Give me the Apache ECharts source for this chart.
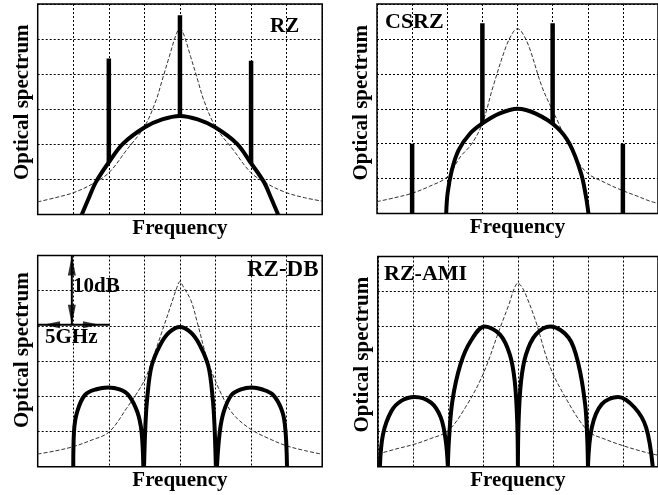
<!DOCTYPE html>
<html><head><meta charset="utf-8">
<script src="https://cdn.jsdelivr.net/npm/echarts@6/dist/echarts.min.js"></script>
<style>html,body{margin:0;padding:0;background:#fff}#c{width:658px;height:495px}</style>
</head><body><div id="c"></div><script>
// ---------- Panel 1: RZ ----------
const rzEnvX = [1.24,1.45,1.64,2,2.4,3,3.5,4,4.5,5,5.6,6,6.36,6.55,6.76];
const rzEnvY = [0,0.5,0.93,1.49,2.02,2.48,2.71,2.81,2.71,2.48,2.02,1.46,0.93,0.5,0];
const rzRefX = [0,0.5,1,1.5,2,2.5,3,3.33,3.5,3.7,3.9,4,4.1,4.3,4.5,4.67,5,5.5,6,6.5,7,7.5,8];
const rzRefY = [0.36,0.48,0.62,0.85,1.19,1.84,2.5,3.26,3.83,4.5,5.15,5.3,5.15,4.5,3.83,3.26,2.5,1.84,1.19,0.85,0.62,0.48,0.38];
const rzToneX = [2,4,6];
const rzToneLow = [1.49,2.81,1.46];
const rzToneHigh = [4.45,5.68,4.38];

// ---------- Panel 2: CSRZ ----------
const csEnvX = [1.97,2.01,2.13,2.32,2.65,3,3.48,4,4.52,5.11,5.48,5.81,5.95,6.02];
const csEnvY = [0,0.58,1.24,1.81,2.29,2.58,2.86,3.0,2.86,2.48,2.0,1.15,0.48,0];
const csRefX = [0,0.5,1,1.5,2,2.37,2.7,3,3.3,3.67,3.88,4,4.12,4.33,4.7,5,5.11,5.48,5.95,6.5,6.96,7.4,7.81,8];
const csRefY = [0.34,0.45,0.58,0.78,1.05,1.62,2.0,2.58,3.62,4.77,5.2,5.29,5.2,4.77,3.62,2.95,2.72,1.91,1.19,0.88,0.67,0.5,0.34,0.3];
const csToneX = [1,3,5,7];
const csToneLow = [0,2.58,2.58,0];
const csToneHigh = [2.0,5.45,5.45,2.0];

// ---------- Panel 3: RZ-DB ----------
const dbLobe1X = [1.0,1.02,1.11,1.33,1.65,1.98,2.3,2.55,2.8,2.92,2.97];
const dbLobe1Y = [0,0.99,1.56,2.04,2.2,2.25,2.2,2.04,1.56,0.99,0];
const dbLobe2X = [2.99,3.03,3.08,3.2,3.45,3.7,4,4.3,4.55,4.8,4.92,4.97,5.01];
const dbLobe2Y = [0,1.2,1.95,2.85,3.47,3.82,3.97,3.82,3.47,2.85,1.95,1.2,0];
const dbLobe3X = [5.04,5.12,5.23,5.45,5.72,6.01,6.3,6.62,6.88,6.97,7.01];
const dbLobe3Y = [0,0.99,1.56,2.04,2.2,2.25,2.2,2.04,1.56,0.99,0];
const dbRefX = [0,0.5,1,1.5,2,2.5,3,3.25,3.5,3.75,3.9,4,4.1,4.31,4.5,4.78,5.16,5.49,5.98,6.5,6.98,7.5,7.97];
const dbRefY = [0.36,0.45,0.57,0.75,0.98,1.66,2.45,3.12,3.85,4.6,5.05,5.26,5.1,4.72,4.05,3.01,2.07,1.5,1.07,0.8,0.6,0.46,0.36];

// ---------- Panel 4: RZ-AMI ----------
const amiLobe1X = [0.06,0.15,0.39,0.67,1.05,1.52,1.8,1.94,2.0];
const amiLobe1Y = [0,0.93,1.59,1.88,1.99,1.83,1.4,0.74,0];
const amiLobe2X = [2.0,2.03,2.13,2.36,2.65,3.05,3.49,3.77,3.91,3.98,4.0];
const amiLobe2Y = [0,0.74,1.88,2.92,3.58,4.0,3.77,3.2,2.44,1.3,0];
const amiLobe3X = [4.0,4.02,4.09,4.23,4.51,4.93,5.45,5.73,5.92,5.98,6.0];
const amiLobe3Y = [0,1.3,2.44,3.2,3.77,4.0,3.68,2.92,1.78,0.8,0];
const amiLobe4X = [6.0,6.11,6.39,6.86,7.33,7.66,7.85];
const amiLobe4Y = [0,1.12,1.78,1.99,1.69,1.12,0];
const amiRefX = [0,0.5,1.04,1.5,2,2.5,3,3.49,3.75,3.9,4,4.1,4.23,4.51,4.89,5.36,6,6.5,7,7.5,7.85,8];
const amiRefY = [0.36,0.5,0.64,0.8,1.02,1.69,2.63,3.96,4.65,5.1,5.24,5.15,4.9,4.15,2.92,1.97,1.02,0.78,0.6,0.45,0.36,0.33];

// ---------- Scale annotation (panel 3) ----------
const scaleVX = [0.96, 0.96];
const scaleVY = [6, 4.03];
const scaleHX = [0, 2.03];
const scaleHY = [4.03, 4.03];

const panelNames = ['RZ','CSRZ','RZ-DB','RZ-AMI'];

const FONT = '"Liberation Serif","Times New Roman",serif';
const pairs = (xs, ys) => xs.map((x, i) => [x, ys[i]]);
const joinLobes = (...lobes) => {
  const out = [];
  lobes.forEach((l, k) => { if (k) out.push('-'); out.push(...l); });
  return out;
};
const tones = (xs, lo, hi) => joinLobes(...xs.map((x, i) => [[x, lo[i]], [x, hi[i]]]));

const grids = [
  {left: 37.7, top: 4, width: 284.5, height: 210.5},
  {left: 377, top: 4, width: 286, height: 209.5},
  {left: 37.7, top: 255.5, width: 284.5, height: 211.2},
  {left: 377.8, top: 256.5, width: 284, height: 210.2}
].map(g => Object.assign(g, {show: true, borderColor: '#000', borderWidth: 1.5, backgroundColor: 'transparent'}));

const nameStyle = {fontFamily: FONT, fontWeight: 'bold', fontSize: 21, color: '#000'};
const splitStyle = {show: true, lineStyle: {type: [2, 2], color: '#000', width: 1}};
const xGaps = [4, 4, 3, 3];
const yPads = [14, 12, 22, 14];

const xAxis = grids.map((g, i) => ({
  gridIndex: i, type: 'value', min: 0, max: 8, interval: 1,
  axisLabel: {show: false}, axisTick: {show: false}, axisLine: {show: false},
  splitLine: splitStyle,
  name: 'Frequency', nameLocation: 'middle', nameGap: xGaps[i], nameTextStyle: nameStyle
}));
const yAxis = grids.map((g, i) => ({
  gridIndex: i, type: 'value', min: 0, max: 6, interval: 1,
  axisLabel: {show: false}, axisTick: {show: false}, axisLine: {show: false},
  splitLine: splitStyle,
  name: 'Optical spectrum', nameLocation: 'middle', nameGap: 5,
  nameTextStyle: Object.assign({padding: [0, 0, 0, yPads[i]]}, nameStyle)
}));

const thick = (i, data, name) => ({
  type: 'line', name, xAxisIndex: i, yAxisIndex: i, data, showSymbol: false, symbol: 'none',
  smooth: 0.35, lineStyle: {color: '#000', width: 4}, z: 5, animation: false
});
const ref = (i, data) => ({
  type: 'line', name: 'reference', xAxisIndex: i, yAxisIndex: i, data, symbol: 'none',
  smooth: 0.35, lineStyle: {color: '#333', width: 1, type: [4, 2]}, z: 4, animation: false
});
const lines = (i, data) => ({
  type: 'line', name: 'tones', xAxisIndex: i, yAxisIndex: i, data, symbol: 'none',
  lineStyle: {color: '#000', width: 4.5, cap: 'butt'}, z: 6, animation: false
});

const series = [
  ref(0, pairs(rzRefX, rzRefY)),
  thick(0, pairs(rzEnvX, rzEnvY), 'RZ'),
  lines(0, tones(rzToneX, rzToneLow, rzToneHigh)),
  ref(1, pairs(csRefX, csRefY)),
  thick(1, pairs(csEnvX, csEnvY), 'CSRZ'),
  lines(1, tones(csToneX, csToneLow, csToneHigh)),
  ref(2, pairs(dbRefX, dbRefY)),
  thick(2, joinLobes(pairs(dbLobe1X, dbLobe1Y), pairs(dbLobe2X, dbLobe2Y), pairs(dbLobe3X, dbLobe3Y)), 'RZ-DB'),
  ref(3, pairs(amiRefX, amiRefY)),
  thick(3, joinLobes(pairs(amiLobe1X, amiLobe1Y), pairs(amiLobe2X, amiLobe2Y), pairs(amiLobe3X, amiLobe3Y), pairs(amiLobe4X, amiLobe4Y)), 'RZ-AMI'),
  // scale bar lines
  {type: 'line', xAxisIndex: 2, yAxisIndex: 2, data: joinLobes(pairs(scaleVX, scaleVY), pairs(scaleHX, scaleHY)),
   symbol: 'none', lineStyle: {color: '#000', width: 2}, z: 7, animation: false},
  // arrow heads
  {type: 'scatter', xAxisIndex: 2, yAxisIndex: 2, z: 8, animation: false, symbol: 'triangle',
   itemStyle: {color: '#000'},
   data: [
     {value: [0.96, 6], symbolSize: [8, 20], symbolRotate: 0, symbolOffset: [0, 10]},
     {value: [0.96, 4.03], symbolSize: [8, 20], symbolRotate: 180, symbolOffset: [0, -10]},
     {value: [0.15, 4.03], symbolSize: [7, 17], symbolRotate: 90, symbolOffset: [8.5, 0]},
     {value: [1.75, 4.03], symbolSize: [7, 17], symbolRotate: -90, symbolOffset: [-8.5, 0]}
   ]}
];

const txt = (t, x, y, size) => ({type: 'text', x, y, z: 100,
  style: {text: t, fill: '#000', font: 'bold ' + size + 'px ' + FONT, align: 'left', verticalAlign: 'middle'}});

const chart = echarts.init(document.getElementById('c'), null, {renderer: 'canvas'});
chart.setOption({
  animation: false,
  backgroundColor: '#fff',
  grid: grids, xAxis, yAxis, series,
  graphic: [
    txt(panelNames[0], 270, 27, 21),
    txt(panelNames[1], 385, 22, 22),
    txt(panelNames[2], 247, 270, 23),
    txt(panelNames[3], 384, 274, 22),
    txt('10dB', 73, 287, 21),
    txt('5GHz', 45, 338, 21)
  ]
});
</script></body></html>
